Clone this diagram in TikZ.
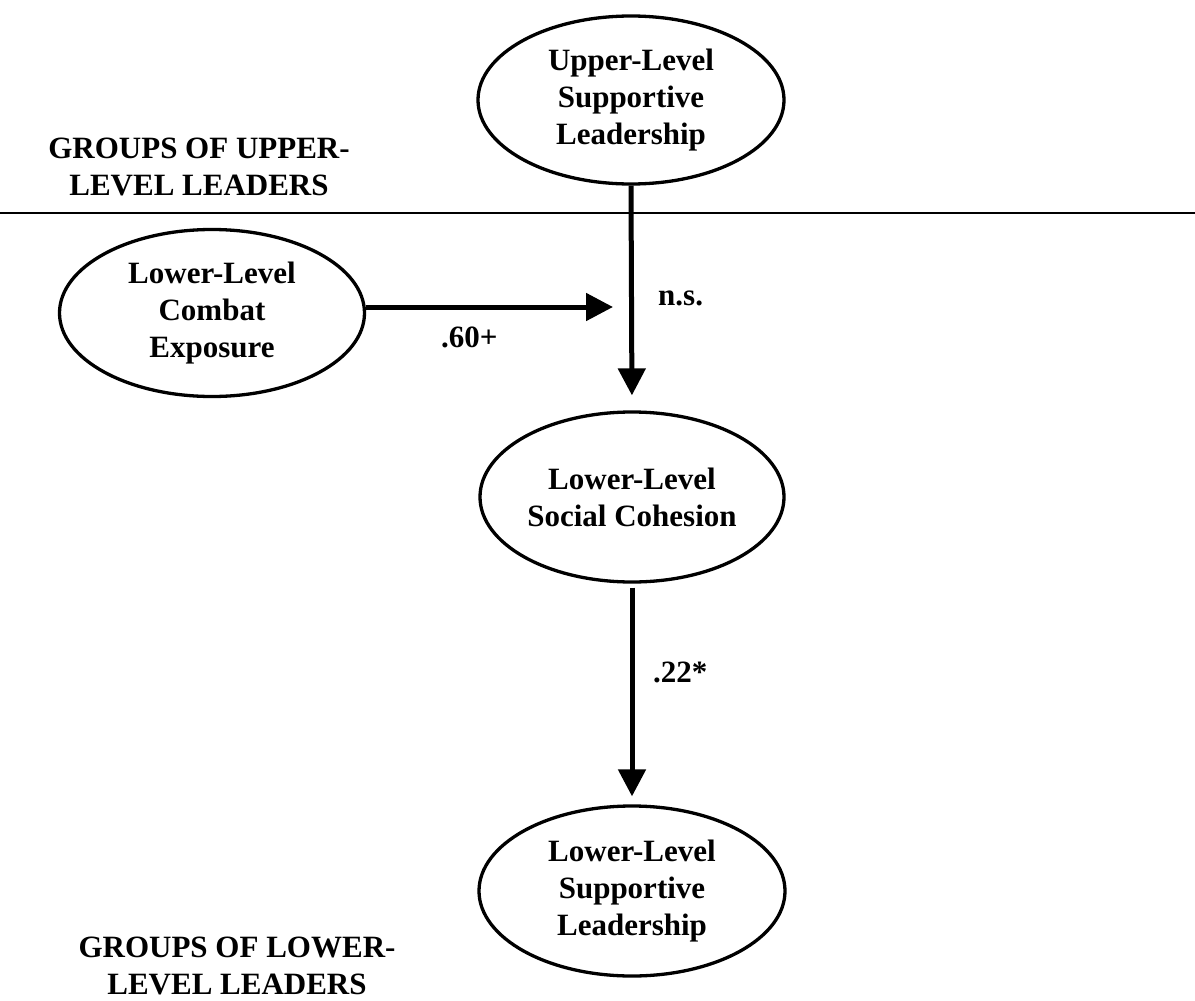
\documentclass[tikz,border=0pt]{standalone}
\usepackage{fontspec}
\setmainfont{Liberation Serif}
\usetikzlibrary{shapes.geometric,arrows.meta}
\begin{document}
\begin{tikzpicture}[x=1pt,y=-1pt,
  every node/.style={font=\fontsize{31}{37}\selectfont\bfseries},
  oval/.style={draw,ellipse,line width=3.3pt,inner sep=0pt,align=center},
  arr/.style={line width=5pt,-{Triangle[length=27pt,width=27pt]}},
  lbl/.style={inner sep=0pt,anchor=base west},
  grp/.style={align=center,inner sep=0pt,anchor=base}]
\useasboundingbox (0,0) rectangle (1195,1001);
\node[oval,minimum width=306pt,minimum height=168pt] (up) at (631,100) {Upper-Level\\Supportive\\Leadership};
\node[oval,minimum width=305pt,minimum height=167pt] (ce) at (212,313) {Lower-Level\\Combat\\Exposure};
\node[oval,minimum width=304pt,minimum height=170pt] (sc) at (632,497) {Lower-Level\\Social Cohesion};
\node[oval,minimum width=306pt,minimum height=170pt] (ls) at (632,891) {Lower-Level\\Supportive\\Leadership};
\node[grp] (gu) at (199,195) {GROUPS OF UPPER-\\LEVEL LEADERS};
\node[grp] (gl) at (237,994) {GROUPS OF LOWER-\\LEVEL LEADERS};
\coordinate (sepL) at (0,213);
\coordinate (sepR) at (1195,213);
\draw[line width=2.5pt] (sepL) -- (sepR);
\coordinate (mod) at (613,307);
\draw[arr,shorten >=15pt] (up.south) -- (sc.north);
\draw[arr] (ce.east |- mod) -- (mod);
\draw[arr,shorten <=4pt,shorten >=8pt] (sc.south) -- (ls.north);
\node[lbl] (ns) at (658,305) {n.s.};
\node[lbl] (p60) at (441,347) {.60+};
\node[lbl] (p22) at (653,682) {.22*};
\end{tikzpicture}
\end{document}
